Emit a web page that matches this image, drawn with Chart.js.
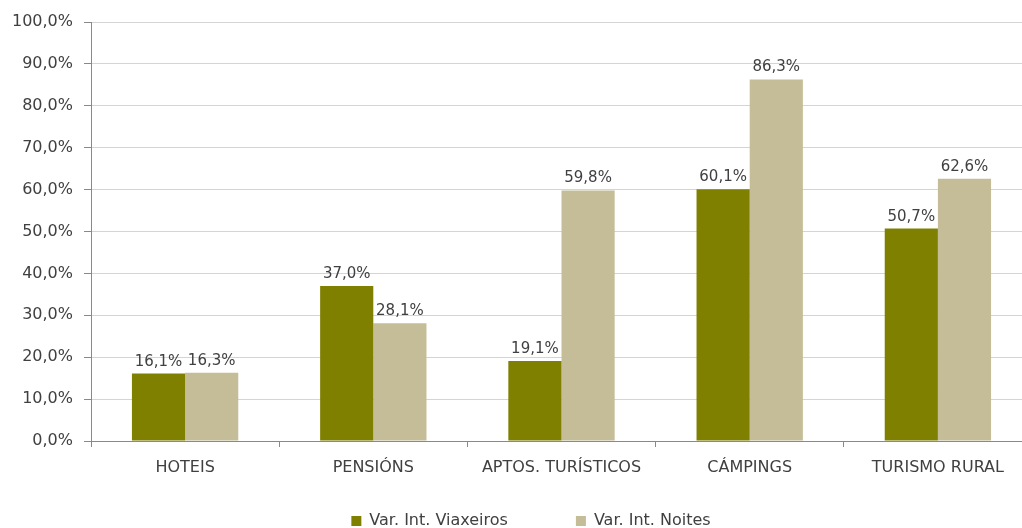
<!DOCTYPE html>
<html>
<head>
<meta charset="utf-8">
<script src="https://cdn.jsdelivr.net/npm/chart.js@4.4.0/dist/chart.umd.min.js"></script>
<style>
  html, body { margin: 0; padding: 0; background: #fff; overflow: hidden; }
  #wrap { position: relative; width: 1040px; height: 575px; }
</style>
</head>
<body>
<div id="wrap"><canvas id="chart"></canvas></div>
<script>
/* ── DATA ─────────────────────────────────────────── */
const categories = ['HOTEIS', 'PENSIÓNS', 'APTOS. TURÍSTICOS', 'CÁMPINGS', 'TURISMO RURAL'];
const viaxeiros = [16.1, 37.0, 19.1, 60.1, 50.7];
const noites = [16.3, 28.1, 59.8, 86.3, 62.6];
const seriesNames = ['Var. Int. Viaxeiros', 'Var. Int. Noites'];
const yTicks = [0, 10, 20, 30, 40, 50, 60, 70, 80, 90, 100];

const FONT = '"DejaVu Sans", sans-serif';
const TEXT = '#404040';

// comma decimal, like the source sheet
function pct(v) {
    return v.toFixed(1).replace('.', ',') + '%';
}

// value labels on top of each bar
const barLabels = {
    id: 'barLabels',
    afterDatasetsDraw(chart) {
        const ctx = chart.ctx;
        ctx.save();
        ctx.font = '15px ' + FONT;
        ctx.fillStyle = TEXT;
        ctx.textAlign = 'center';
        ctx.textBaseline = 'alphabetic';
        chart.data.datasets.forEach((ds, i) => {
            chart.getDatasetMeta(i).data.forEach((bar, j) => {
                ctx.fillText(pct(ds.data[j]), bar.x, bar.y - 8);
            });
        });
        ctx.restore();
    }
};

// legend sits tight under the axis labels, keep the wide item gap
const legendNudge = {
    id: 'legendNudge',
    afterLayout(chart) {
        const lg = chart.legend;
        lg.top -= 36;
        lg.bottom -= 36;
        lg.left += 15;
        lg.right += 15;
    }
};

new Chart(document.getElementById('chart'), {
    type: 'bar',
    data: {
        labels: categories,
        datasets: [{
            label: seriesNames[0],
            data: viaxeiros,
            backgroundColor: '#808000'
        }, {
            label: seriesNames[1],
            data: noites,
            backgroundColor: '#c4bd97'
        }]
    },
    options: {
        responsive: true,
        maintainAspectRatio: false,
        animation: false,
        layout: { padding: { left: 0, right: 8, top: 22, bottom: 0 } },
        categoryPercentage: 0.565,
        barPercentage: 1,
        plugins: {
            tooltip: { enabled: false },
            legend: {
                position: 'bottom',
                labels: {
                    boxWidth: 10,
                    boxHeight: 10,
                    padding: 68,
                    color: TEXT,
                    font: { family: FONT, size: 16 }
                }
            }
        },
        scales: {
            x: {
                grid: {
                    offset: true,
                    drawOnChartArea: false,
                    tickLength: 6,
                    tickColor: '#898989'
                },
                border: { color: '#898989' },
                ticks: {
                    color: TEXT,
                    padding: 11,
                    maxRotation: 0,
                    font: { family: FONT, size: 16 }
                },
                afterFit(scale) { scale.height = 40; }
            },
            y: {
                min: 0,
                max: 100,
                afterBuildTicks(scale) {
                    scale.ticks = yTicks.map(v => ({ value: v }));
                },
                grid: {
                    color: '#d4d4d4',
                    tickLength: 7,
                    tickColor: '#898989'
                },
                border: { color: '#898989' },
                ticks: {
                    color: TEXT,
                    padding: 11,
                    font: { family: FONT, size: 16 },
                    callback: v => pct(v)
                },
                afterFit(scale) { scale.width = 91; }
            }
        }
    },
    plugins: [barLabels, legendNudge]
});
</script>
</body>
</html>
